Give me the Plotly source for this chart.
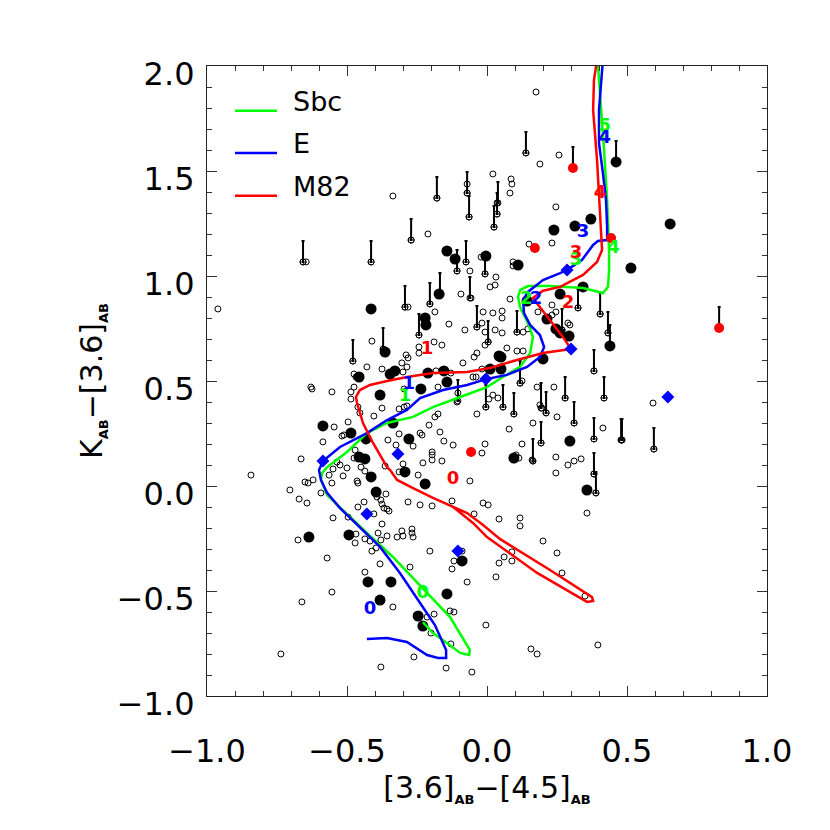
import plotly.graph_objects as go

# ---------------- data ----------------
# open circles (all galaxies)
open_x = [-0.657,-0.646,-0.414,-0.336,-0.271,-0.211,-0.179,-0.071,-0.071,-0.064,0.021,0.025,0.036,0.036,-0.075,-0.107,-0.061,-0.021,-0.007,0.032,0.093,0.093,0.175,0.139,0.189,0.257,0.086,0.089,0.082,0.246,0.150,0.232,
 -0.961,-0.293,-0.282,-0.204,-0.186,-0.136,-0.243,-0.243,-0.189,-0.161,-0.411,-0.479,-0.371,-0.289,-0.282,-0.243,-0.304,-0.286,-0.375,-0.429,-0.475,-0.468,-0.300,-0.182,-0.175,-0.129,-0.629,-0.625,-0.554,-0.475,-0.486,-0.461,-0.454,-0.486,-0.404,-0.375,-0.296,-0.286,-0.296,-0.314,-0.186,-0.175,-0.546,-0.518,-0.511,-0.496,-0.586,-0.664,-0.843,-0.704,-0.650,-0.639,-0.621,-0.314,-0.354,-0.239,-0.232,-0.207,-0.168,-0.154,-0.325,-0.264,-0.536,-0.525,-0.550,-0.500,-0.475,-0.471,-0.450,-0.436,-0.364,-0.300,-0.314,-0.514,-0.464,-0.461,-0.564,-0.554,-0.196,-0.196,-0.196,-0.229,-0.161,-0.246,
 -0.093,-0.057,0.011,0.029,0.082,-0.014,0.021,0.054,0.054,-0.036,-0.079,-0.018,-0.007,0.029,0.054,0.004,-0.007,-0.046,-0.086,0.071,0.107,0.129,0.107,0.129,0.146,0.182,0.232,0.232,0.246,0.289,0.296,0.325,0.404,0.432,0.382,0.418,0.118,0.125,0.179,0.239,0.279,-0.107,-0.004,-0.036,0.039,0.057,0.096,0.164,0.196,0.189,0.211,0.250,0.311,0.382,0.414,0.479,0.482,0.593,0.596,0.079,0.125,0.193,-0.018,-0.007,-0.121,0.104,0.114,0.161,0.164,0.246,0.289,0.311,0.336,0.382,0.246,-0.061,-0.050,-0.039,-0.018,-0.036,-0.104,0.007,0.021,0.268,
 -0.671,-0.643,-0.593,-0.550,-0.675,-0.571,-0.554,-0.661,-0.736,-0.496,-0.471,-0.468,-0.439,-0.461,-0.393,-0.379,-0.361,-0.375,-0.368,-0.357,-0.350,-0.404,-0.375,-0.436,-0.418,-0.389,-0.379,-0.396,-0.411,-0.357,-0.321,-0.304,-0.300,-0.268,-0.268,-0.264,-0.282,-0.239,-0.196,-0.275,-0.382,-0.436,-0.204,-0.336,-0.214,-0.189,-0.261,-0.379,-0.146,-0.200,
 0.357,-0.125,-0.014,0.004,-0.046,0.043,0.118,0.118,0.200,0.250,0.089,0.061,0.089,0.043,0.032,-0.118,-0.125,-0.071,0.268,0.350,-0.004,-0.132,-0.118,0.157,0.179,0.396,-0.054,-0.089,-0.129,0.389]
open_y = [1.067,1.067,1.067,1.381,1.171,1.200,1.371,1.438,1.395,1.281,1.486,1.233,1.295,1.348,1.067,1.024,1.024,1.090,1.010,0.995,1.067,1.048,1.876,1.586,1.533,1.576,1.462,1.438,1.395,1.329,1.152,1.157,
 0.843,0.852,0.852,0.867,0.829,0.771,0.719,0.662,0.686,0.671,0.690,0.595,0.652,0.624,0.610,0.633,0.586,0.567,0.557,0.567,0.533,0.519,0.543,0.548,0.471,0.538,0.471,0.462,0.448,0.471,0.448,0.376,0.348,0.414,0.333,0.371,0.376,0.381,0.462,0.367,0.329,0.343,0.281,0.238,0.243,0.305,0.210,0.129,0.052,-0.019,0.019,0.014,0.029,0.248,0.219,0.252,0.243,0.290,0.257,0.214,0.195,0.190,0.114,0.100,0.081,0.086,0.133,0.171,0.090,0.071,0.095,0.105,0.067,0.048,0.024,0.014,0.052,0.014,0.162,0.148,0.124,0.110,0.119,0.052,
 0.914,0.895,0.948,0.957,0.890,0.829,0.824,0.833,0.800,0.757,0.743,0.776,0.733,0.743,0.729,0.686,0.671,0.614,0.586,0.657,0.733,0.733,0.643,0.643,0.748,0.829,0.862,0.814,0.829,0.776,0.767,0.848,0.819,0.729,0.548,0.419,0.490,0.500,0.471,0.471,0.419,0.400,0.376,0.343,0.419,0.376,0.343,0.300,0.371,0.386,0.348,0.329,0.300,0.224,0.276,0.219,0.219,0.395,0.176,0.271,0.200,0.205,0.157,0.200,0.195,0.148,0.133,0.124,0.119,0.138,0.100,0.119,0.129,0.057,0.062,0.024,0.519,0.519,0.557,0.633,0.443,0.414,0.433,0.743,
 -0.062,-0.081,-0.033,-0.152,-0.257,-0.343,-0.505,-0.552,-0.800,-0.148,-0.271,-0.229,-0.076,-0.100,-0.052,-0.067,-0.038,-0.086,-0.105,-0.110,-0.119,-0.133,-0.181,-0.252,-0.262,-0.224,-0.257,-0.295,-0.310,-0.238,-0.243,-0.214,-0.238,-0.205,-0.224,-0.243,-0.076,-0.090,-0.095,-0.386,-0.371,-0.410,-0.310,-0.576,-0.624,-0.610,-0.814,-0.862,-0.867,-0.700,
 -0.129,-0.071,-0.081,-0.090,-0.133,-0.157,-0.152,-0.190,-0.262,-0.319,-0.314,-0.338,-0.357,-0.367,-0.433,-0.357,-0.395,-0.457,-0.414,-0.524,-0.662,-0.595,-0.600,-0.776,-0.800,-0.757,-0.886,-0.310,-0.752,-0.033]

# filled black circles
filled_x = [0.461,0.654,0.371,0.314,0.239,0.111,-0.004,-0.114,-0.143,0.514,-0.414,-0.221,-0.218,-0.171,-0.364,-0.457,-0.346,-0.329,-0.211,-0.154,-0.143,-0.236,-0.382,0.011,0.043,-0.336,-0.486,-0.586,-0.279,-0.432,-0.457,-0.436,-0.293,-0.414,-0.221,-0.396,-0.636,-0.493,-0.089,-0.425,-0.343,-0.382,-0.143,-0.246,-0.229,0.261,0.343,0.143,0.214,0.246,0.261,0.293,0.200,0.050,0.050,0.439,0.296,0.096,0.357]
filled_y = [1.543,1.248,1.271,1.238,1.219,1.052,1.095,1.081,1.119,1.038,0.843,0.800,0.767,0.914,0.638,0.519,0.533,0.548,0.538,0.548,0.495,0.462,0.433,0.557,0.619,0.300,0.252,0.286,0.224,0.224,0.138,0.129,0.067,0.043,0.010,-0.029,-0.243,-0.233,-0.357,-0.457,-0.457,-0.543,-0.514,-0.619,-0.667,0.914,0.948,0.881,0.795,0.748,0.729,0.714,0.605,0.614,0.557,0.667,0.214,0.133,-0.019]

# red filled circles
red_x = [0.307,0.171,0.443,0.829,-0.057]
red_y = [1.514,1.133,1.181,0.752,0.162]

# blue diamonds
dia_x = [0.286,0.300,0.646,-0.004,-0.586,-0.318,-0.429,-0.104]
dia_y = [1.029,0.652,0.424,0.510,0.119,0.152,-0.133,-0.310]

# sources with upward bars
bar_x = [-0.657,-0.414,-0.271,-0.179,-0.071,-0.064,0.025,0.036,0.039,0.139,0.307,0.461,-0.075,-0.107,-0.007,-0.293,-0.204,-0.168,-0.243,-0.371,-0.479,-0.061,-0.036,0.004,-0.104,-0.004,0.107,0.118,0.325,0.268,0.404,0.432,0.439,0.382,0.418,0.057,0.096,0.193,0.211,0.279,0.311,0.382,0.479,0.482,0.596,0.193,0.164,0.382,0.389,0.829]
bar_y = [1.067,1.067,1.171,1.371,1.395,1.281,1.233,1.295,1.348,1.586,1.514,1.543,1.067,1.024,1.010,0.852,0.867,0.914,0.719,0.652,0.595,0.895,0.757,0.686,0.405,0.376,0.733,0.490,0.848,0.743,0.819,0.729,0.667,0.548,0.419,0.376,0.343,0.371,0.348,0.419,0.300,0.224,0.219,0.219,0.176,0.205,0.119,0.057,-0.033,0.752]
bar_len = [0.10,0.10,0.10,0.10,0.10,0.10,0.10,0.10,0.10,0.10,0.10,0.10,0.10,0.10,0.10,0.10,0.10,0.10,0.10,0.10,0.10,0.10,0.10,0.10,0.10,0.105,0.10,0.105,0.09,0.10,0.10,0.10,0.10,0.10,0.10,0.105,0.10,0.12,0.10,0.10,0.10,0.10,0.10,0.10,0.10,0.10,0.105,0.10,0.10,0.10]

# colour tracks
sbc_x = [-0.229,-0.193,-0.143,-0.096,-0.064,-0.061,-0.132,-0.232,-0.336,-0.429,-0.514,-0.571,-0.593,-0.589,-0.571,-0.500,-0.429,-0.357,-0.264,-0.193,-0.096,0.000,0.057,0.118,0.154,0.164,0.146,0.118,0.111,0.118,0.146,0.225,0.343,0.414,0.432,0.436,0.436,0.429,0.418,0.404,0.396]
sbc_y = [-0.648,-0.700,-0.748,-0.795,-0.805,-0.781,-0.624,-0.486,-0.338,-0.224,-0.114,-0.043,0.029,0.062,0.090,0.162,0.252,0.300,0.329,0.376,0.424,0.471,0.519,0.567,0.633,0.710,0.776,0.852,0.900,0.933,0.952,0.952,0.943,0.919,0.948,1.029,1.124,1.362,1.600,1.850,2.010]

e_x = [-0.429,-0.357,-0.286,-0.214,-0.175,-0.146,-0.146,-0.186,-0.239,-0.311,-0.382,-0.454,-0.525,-0.571,-0.593,-0.600,-0.586,-0.525,-0.429,-0.357,-0.286,-0.239,-0.157,-0.071,0.000,0.071,0.143,0.189,0.204,0.189,0.154,0.132,0.129,0.146,0.200,0.261,0.286,0.339,0.379,0.396,0.429,0.429,0.425,0.414,0.400,0.400,0.411,0.414]
e_y = [-0.729,-0.724,-0.743,-0.805,-0.819,-0.819,-0.781,-0.662,-0.557,-0.414,-0.290,-0.195,-0.105,-0.033,0.029,0.076,0.119,0.186,0.252,0.314,0.362,0.419,0.457,0.481,0.510,0.529,0.567,0.614,0.662,0.719,0.767,0.824,0.886,0.924,0.981,1.014,1.029,1.076,1.148,1.167,1.171,1.233,1.362,1.490,1.633,1.790,1.948,2.030]

m82_x = [-0.121,-0.050,0.000,0.179,0.357,0.379,0.375,0.225,0.046,-0.014,-0.071,-0.121,-0.193,-0.264,-0.321,-0.346,-0.357,-0.407,-0.443,-0.464,-0.468,-0.454,-0.418,-0.357,-0.286,-0.193,-0.071,0.011,0.107,0.200,0.300,0.271,0.225,0.179,0.164,0.200,0.261,0.343,0.393,0.411,0.404,0.393,0.379,0.382,0.393]
m82_y = [-0.100,-0.176,-0.243,-0.414,-0.552,-0.548,-0.529,-0.400,-0.252,-0.186,-0.129,-0.100,-0.057,-0.010,0.029,0.076,0.090,0.205,0.300,0.395,0.424,0.457,0.481,0.500,0.519,0.538,0.543,0.562,0.600,0.633,0.652,0.710,0.790,0.867,0.895,0.930,0.948,1.005,1.067,1.124,1.314,1.552,1.790,1.933,2.030]

# redshift labels on the tracks
sbc_lab = ["0","1","2","3","4","5"]
sbc_lab_x = [-0.229,-0.293,0.140,0.318,0.452,0.421]
sbc_lab_y = [-0.514,0.424,0.886,1.076,1.133,1.710]
e_lab = ["0","1","2","3","4"]
e_lab_x = [-0.418,-0.279,0.175,0.343,0.421]
e_lab_y = [-0.590,0.481,0.886,1.205,1.657]
m82_lab = ["0","1","2","3","4"]
m82_lab_x = [-0.121,-0.214,0.289,0.318,0.404]
m82_lab_y = [0.029,0.652,0.867,1.105,1.395]

legend_names = ["Sbc", "E", "M82"]
legend_colors = ["#00ff00", "#0000ff", "#ff0000"]

# ---------------- figure ----------------
FONT = "DejaVu Sans"
fig = go.Figure()

fig.add_trace(go.Scatter(x=open_x, y=open_y, mode="markers",
    marker=dict(symbol="circle-open", size=6, color="black", line=dict(width=1, color="black")),
    showlegend=False, hoverinfo="skip"))

fig.add_trace(go.Scatter(x=bar_x, y=bar_y, mode="markers",
    marker=dict(symbol="circle-open", size=6, color="black", line=dict(width=1, color="black")),
    error_y=dict(type="data", symmetric=False, array=bar_len, arrayminus=[0]*len(bar_len),
                 color="black", thickness=2, width=1.5),
    showlegend=False, hoverinfo="skip"))

fig.add_trace(go.Scatter(x=filled_x, y=filled_y, mode="markers",
    marker=dict(symbol="circle", size=11, color="black"),
    showlegend=False, hoverinfo="skip"))

for xs, ys, col in [(sbc_x, sbc_y, legend_colors[0]), (e_x, e_y, legend_colors[1]), (m82_x, m82_y, legend_colors[2])]:
    fig.add_trace(go.Scatter(x=xs, y=ys, mode="lines", line=dict(color=col, width=2.5),
                             showlegend=False, hoverinfo="skip"))

fig.add_trace(go.Scatter(x=red_x, y=red_y, mode="markers",
    marker=dict(symbol="circle", size=10, color="#ff0000"), showlegend=False, hoverinfo="skip"))
fig.add_trace(go.Scatter(x=dia_x, y=dia_y, mode="markers",
    marker=dict(symbol="diamond", size=10, color="#0000ff"), showlegend=False, hoverinfo="skip"))

for labs, lx, ly, col in [(sbc_lab, sbc_lab_x, sbc_lab_y, legend_colors[0]),
                          (e_lab, e_lab_x, e_lab_y, legend_colors[1]),
                          (m82_lab, m82_lab_x, m82_lab_y, legend_colors[2])]:
    fig.add_trace(go.Scatter(x=lx, y=ly, mode="text", text=labs,
        textfont=dict(family=FONT, size=18, color=col, weight="bold"),
        showlegend=False, hoverinfo="skip"))

# legend (drawn manually to match spacing)
leg_y_line = [0.929, 0.862, 0.794]
for name, col, yy in zip(legend_names, legend_colors, leg_y_line):
    fig.add_shape(type="line", xref="paper", yref="paper", x0=0.05, x1=0.125, y0=yy, y1=yy,
                  line=dict(color=col, width=2.5))
    fig.add_annotation(xref="paper", yref="paper", x=0.150, y=yy + 0.015, text=name, showarrow=False,
                       xanchor="left", yanchor="middle", font=dict(family=FONT, size=27, color="black"))

sub = "<sub><span style='font-size:13px'><b>AB</b></span></sub>"
axis_common = dict(showline=True, linecolor="#222222", linewidth=1.2, mirror="allticks",
                   ticks="inside", ticklen=10, tickwidth=1, tickcolor="#333333",
                   showgrid=False, zeroline=False, tickformat=".1f", automargin=False,
                   tickfont=dict(family=FONT, size=32, color="black"),
                   minor=dict(ticks="inside", ticklen=5, dtick=0.1, tickcolor="#333333", showgrid=False))

fig.update_xaxes(range=[-1.0, 1.0], tickvals=[-1.0, -0.5, 0.0, 0.5, 1.0], ticklabelstandoff=26,
                 title=dict(text="[3.6]" + sub + "−[4.5]" + sub, font=dict(family=FONT, size=30, color="black"),
                            standoff=6), **axis_common)
fig.update_yaxes(range=[-1.0, 2.0], tickvals=[-1.0, -0.5, 0.0, 0.5, 1.0, 1.5, 2.0], ticklabelstandoff=5,
                 ticklabelshift=8,
                 title=dict(text="K" + sub + "−[3.6]" + sub, font=dict(family=FONT, size=30, color="black"),
                            standoff=5), **axis_common)

# the page body adds an 8 px offset; margins compensate so the plot box sits where it should
fig.update_layout(width=830, height=830, margin=dict(l=199, r=71, t=58, b=142),
                  plot_bgcolor="white", paper_bgcolor="white", showlegend=False)

fig.write_html("out.html")
